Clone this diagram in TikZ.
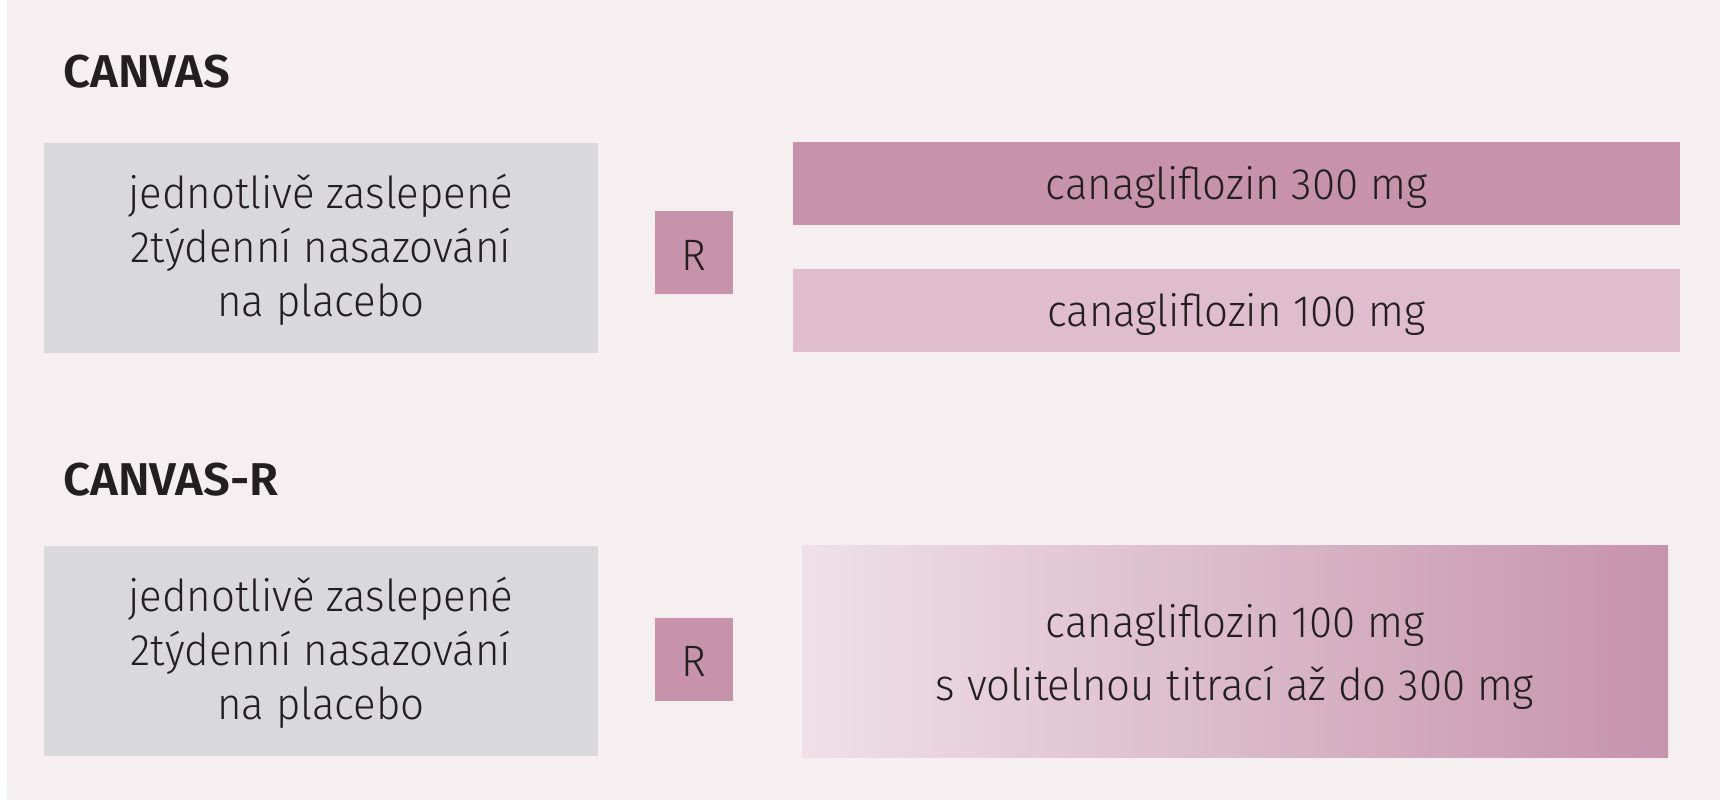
\documentclass[tikz,border=0pt]{standalone}
\usepackage{fontspec}
\setmainfont{Fira Sans}[UprightFont=* Light, BoldFont=* Bold, FakeStretch=0.955]
\newfontfamily\titlefont{Fira Sans}[BoldFont=* SemiBold, FakeStretch=1.03]
\usetikzlibrary{positioning}
\definecolor{bgpink}{HTML}{F6EFF2}
\definecolor{boxgrey}{HTML}{D9D9DB}
\definecolor{darkmauve}{HTML}{C693AB}
\definecolor{lightmauve}{HTML}{DFBDCD}
\definecolor{palemauve}{HTML}{EFE0E7}
\definecolor{textdark}{HTML}{231F20}
\newcommand{\lines}[1]{\begin{tabular}[t]{@{}c@{}}#1\end{tabular}}

\begin{document}
\begin{tikzpicture}[x=1pt, y=-1pt, node distance={44pt},
    every node/.style = {text=textdark, font=\fontsize{44}{54}\selectfont, inner sep=0pt},
    title/.style = {anchor=base west, font=\titlefont\fontsize{46}{54}\selectfont\bfseries},
    runin/.style = {fill=boxgrey, minimum width=554pt, minimum height=210pt,
                    text height=40pt, text depth=119pt},
    rand/.style = {fill=darkmauve, minimum width=78pt, minimum height=83pt,
                   text height=35pt, text depth=0pt},
    arm/.style = {minimum width=887pt, minimum height=83pt, text height=31pt, text depth=0pt}]
        \useasboundingbox (0,0) rectangle (1720,800);
        \fill[white] (0,0) rectangle (1720,800);
        \fill[bgpink] (7,0) rectangle (1720,800);

        % CANVAS
        \node[title] (T1) at (63,87) {CANVAS};
        \node[runin] (P1) at (321,247.5) {\lines{jednotlivě zaslepené\\2týdenní nasazování\\na placebo}};
        \node[rand] (R1) at (694,252.5) {R};
        \node[arm, fill=darkmauve] (A3) at (1236.5,183.5) {canagliflozin 300 mg};
        \node[arm, fill=lightmauve] (A1) [below = of A3] {canagliflozin 100 mg};

        % CANVAS-R
        \node[title] (T2) at (63,495) {CANVAS-R};
        \node[runin] (P2) at (321,651) {\lines{jednotlivě zaslepené\\2týdenní nasazování\\na placebo}};
        \node[rand] (R2) at (694,659) {R};
        \node[minimum width=866pt, minimum height=212pt, text height=40pt, text depth=68pt,
              left color=palemauve, right color=darkmauve] (A2) at (1235,651)
              {\lines{canagliflozin 100 mg\\[9pt]s volitelnou titrací až do 300 mg}};
    \end{tikzpicture}
\end{document}
